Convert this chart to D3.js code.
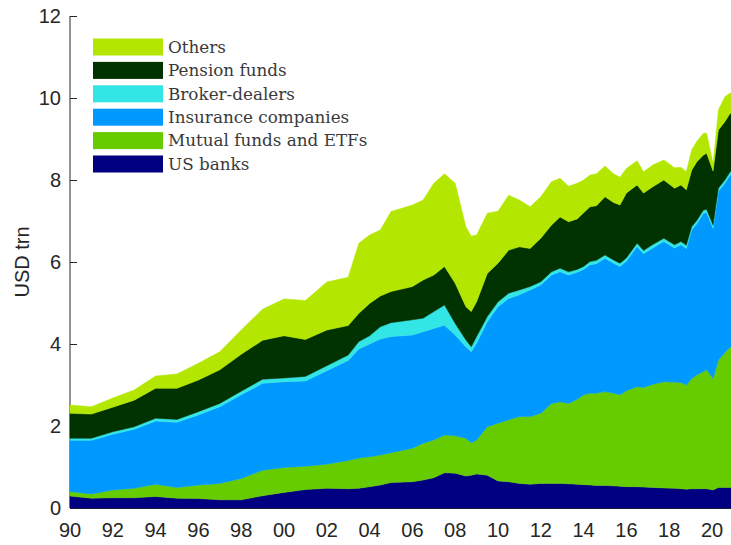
<!DOCTYPE html>
<html>
<head>
<meta charset="utf-8">
<script src="https://cdn.jsdelivr.net/npm/d3@7"></script>
<style>
  body { margin: 0; background: #fff; }
  svg { display: block; }
</style>
</head>
<body>
<svg id="chart" width="731" height="545"></svg>
<script>
// quarter-ish dates (decimal years)
const dates = [1990, 1991, 1992, 1993, 1994, 1995, 1996, 1997, 1998, 1999, 2000, 2001, 2002, 2003,
  2003.5, 2004, 2004.5, 2005, 2006, 2006.5, 2007, 2007.5, 2008, 2008.5, 2008.75, 2009, 2009.5,
  2010, 2010.5, 2011, 2011.5, 2012, 2012.5, 2012.9, 2013.3, 2013.7, 2014, 2014.3, 2014.6, 2015,
  2015.4, 2015.7, 2016, 2016.5, 2016.8, 2017.25, 2017.75, 2018.25, 2018.55, 2018.8, 2019.05,
  2019.3, 2019.6, 2019.75, 2020.05, 2020.3, 2020.6, 2020.85, 2021];

const usBanks = [.29, .24, .25, .25, .28, .24, .23, .20, .20, .30, .38, .45, .48, .47,
  .48, .52, .56, .62, .64, .68, .74, .86, .85, .78, .80, .83, .80,
  .66, .64, .60, .58, .60, .60, .60, .59, .58, .57, .56, .55, .55,
  .54, .53, .52, .52, .51, .50, .49, .48, .47, .46, .47,
  .47, .47, .47, .44, .50, .50, .50, .52];

const mutualFunds = [.11, .10, .19, .23, .30, .26, .33, .40, .52, .62, .61, .57, .59, .69,
  .74, .73, .73, .73, .82, .90, .92, .92, .91, .92, .79, .83, 1.18,
  1.41, 1.51, 1.63, 1.65, 1.71, 1.95, 1.99, 1.96, 2.07, 2.19, 2.24, 2.25, 2.29,
  2.26, 2.23, 2.34, 2.44, 2.43, 2.52, 2.59, 2.59, 2.59, 2.54, 2.69,
  2.78, 2.86, 2.90, 2.72, 3.11, 3.29, 3.42, 3.43];

const insurance = [1.25, 1.31, 1.36, 1.44, 1.54, 1.59, 1.71, 1.87, 2.04, 2.12, 2.09, 2.08, 2.28, 2.44,
  2.66, 2.75, 2.83, 2.83, 2.76, 2.72, 2.72, 2.68, 2.46, 2.23, 2.22, 2.36, 2.56,
  2.84, 2.96, 2.97, 3.09, 3.13, 3.13, 3.17, 3.13, 3.10, 3.06, 3.13, 3.16, 3.25,
  3.17, 3.13, 3.16, 3.42, 3.26, 3.33, 3.42, 3.27, 3.36, 3.33, 3.62,
  3.69, 3.86, 3.83, 3.66, 4.11, 4.13, 4.20, 4.20];

const brokers = [.05, .05, .06, .06, .07, .07, .08, .08, .09, .10, .09, .11, .12, .13,
  .18, .20, .30, .34, .37, .33, .41, .49, .28, .17, .12, .16, .13,
  .12, .13, .12, .08, .08, .08, .09, .08, .07, .07, .08, .08, .08,
  .08, .08, .08, .08, .08, .08, .08, .08, .08, .08, .08,
  .08, .08, .08, .08, .08, .08, .08, .08];

const pension = [.61, .59, .60, .65, .73, .76, .77, .82, .90, .95, 1.03, .90, .87, .72,
  .69, .79, .75, .76, .81, .93, .89, .94, .98, .81, .86, .85, 1.05,
  .94, 1.05, 1.05, .93, 1.06, 1.14, 1.25, 1.22, 1.23, 1.31, 1.34, 1.33, 1.42,
  1.40, 1.42, 1.58, 1.42, 1.40, 1.41, 1.42, 1.38, 1.38, 1.35, 1.38,
  1.43, 1.34, 1.37, 1.32, 1.42, 1.42, 1.43, 1.37];

const others = [.20, .18, .22, .25, .30, .35, .41, .44, .59, .76, .90, .95, 1.17, 1.18,
  1.71, 1.67, 1.61, 1.95, 1.99, 1.95, 2.24, 2.26, 2.44, 1.95, 1.84, 1.63, 1.47,
  1.27, 1.34, 1.14, 1.02, 1.01, 1.06, .94, .87, .87, .80, .77, .78, .75,
  .70, .68, .60, .59, .52, .53, .49, .50, .43, .44, .49,
  .50, .53, .49, .18, .49, .61, .49, .48];

const seriesNames = ["US banks", "Mutual funds and ETFs", "Insurance companies",
  "Broker-dealers", "Pension funds", "Others"];
const seriesValues = [usBanks, mutualFunds, insurance, brokers, pension, others];
const colors = ["#000080", "#66cc00", "#0099ff", "#33e6e6", "#003300", "#b3e600"];
const yTicks = [0, 2, 4, 6, 8, 10, 12];
const xTicks = [1990, 1992, 1994, 1996, 1998, 2000, 2002, 2004, 2006, 2008, 2010,
  2012, 2014, 2016, 2018, 2020];

const svg = d3.select("#chart");

const x = d3.scaleLinear().domain([1990, 2020]).range([70, 712]);
const y = d3.scaleLinear().domain([0, 12]).range([508, 16]);

// rows for the stack
const rows = dates.map((d, i) => {
  const r = { date: d };
  seriesNames.forEach((n, j) => { r[n] = seriesValues[j][i]; });
  return r;
});

const stack = d3.stack().keys(seriesNames);
const layers = stack(rows);

const area = d3.area()
  .x(d => x(d.data.date))
  .y0(d => y(d[0]))
  .y1(d => y(d[1]));

// axes first, areas drawn over them (matlab style)
const axisColor = "#262626";

const yAxis = svg.append("g")
  .attr("transform", "translate(70,0)")
  .call(d3.axisRight(y).tickValues(yTicks).tickSize(7).tickFormat(""));
yAxis.select(".domain").attr("stroke", axisColor).attr("d", "M0,16V508");
yAxis.selectAll(".tick line").attr("stroke", axisColor);

svg.append("line")
  .attr("x1", 70).attr("x2", 731)
  .attr("y1", 508.5).attr("y2", 508.5)
  .attr("stroke", axisColor);

svg.append("g")
  .selectAll("path")
  .data(layers)
  .join("path")
  .attr("fill", (d, i) => colors[i])
  .attr("stroke", (d, i) => colors[i])
  .attr("stroke-width", 0.5)
  .attr("d", area);

// tick labels
svg.append("g")
  .selectAll("text")
  .data(yTicks)
  .join("text")
  .attr("x", 61)
  .attr("y", d => y(d))
  .attr("dy", "0.36em")
  .attr("text-anchor", "end")
  .attr("font-family", "Liberation Sans, Arial, sans-serif")
  .attr("font-size", 20)
  .attr("fill", axisColor)
  .text(d => d);

svg.append("g")
  .selectAll("text")
  .data(xTicks)
  .join("text")
  .attr("x", d => x(d))
  .attr("y", 537)
  .attr("text-anchor", "middle")
  .attr("font-family", "Liberation Sans, Arial, sans-serif")
  .attr("font-size", 20)
  .attr("fill", axisColor)
  .text(d => String(d % 100).padStart(2, "0"));

svg.append("text")
  .attr("transform", "translate(29,262) rotate(-90)")
  .attr("text-anchor", "middle")
  .attr("font-family", "Liberation Sans, Arial, sans-serif")
  .attr("font-size", 20)
  .attr("fill", axisColor)
  .text("USD trn");

// legend, top entry = Others
const legendOrder = seriesNames.map((n, i) => i).reverse();
const legend = svg.append("g")
  .selectAll("g")
  .data(legendOrder)
  .join("g")
  .attr("transform", (d, k) => `translate(93,${47 + k * 23.4})`);

legend.append("rect")
  .attr("x", 0).attr("y", -8.5)
  .attr("width", 70).attr("height", 17)
  .attr("fill", d => colors[d]);

legend.append("text")
  .attr("x", 75)
  .attr("y", 0)
  .attr("dy", "0.35em")
  .attr("font-family", "DejaVu Serif, serif")
  .attr("font-size", 16.8)
  .attr("fill", "#3a3a3a")
  .text(d => seriesNames[d]);
</script>
</body>
</html>
